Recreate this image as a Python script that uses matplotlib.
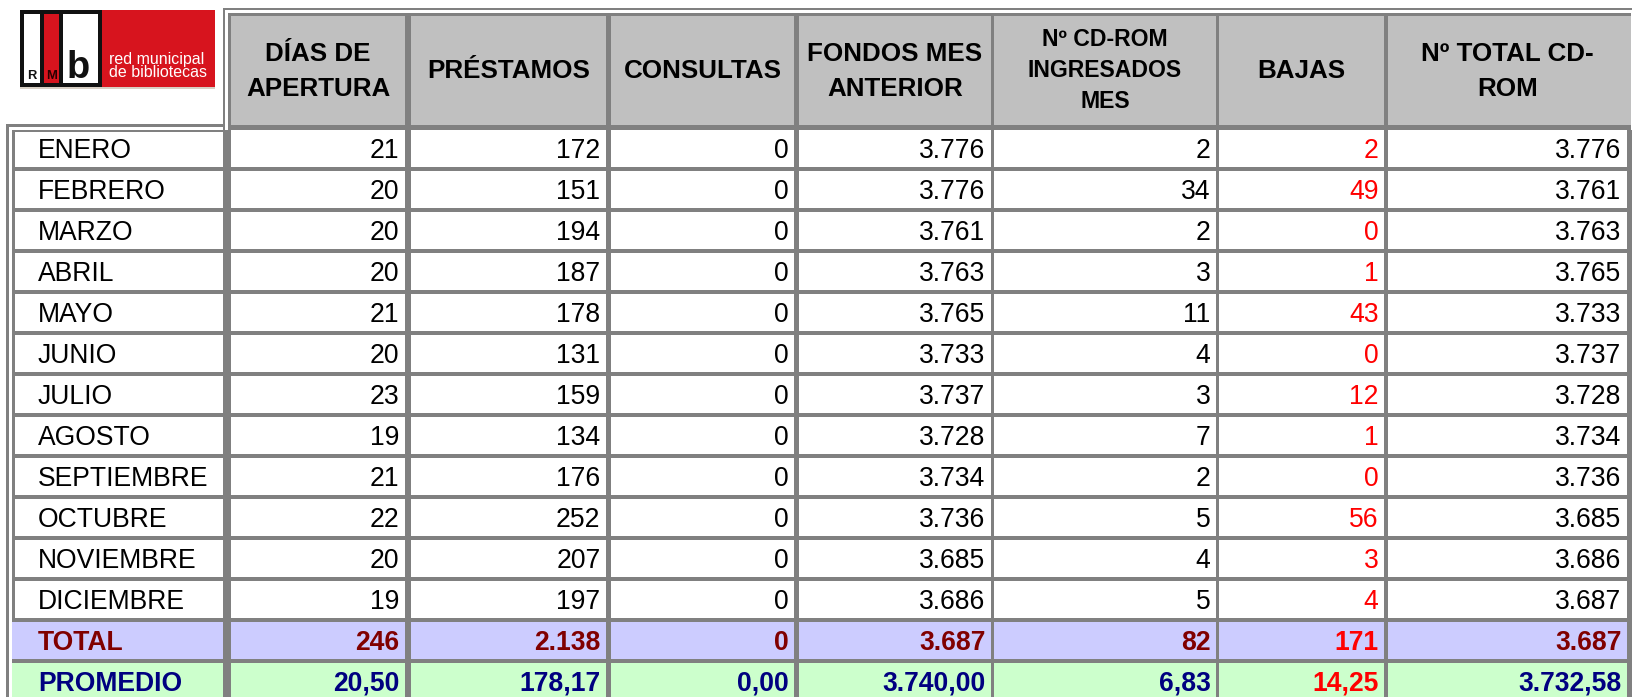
import matplotlib
matplotlib.use("Agg")
import matplotlib.pyplot as plt
from matplotlib.patches import Rectangle

# ---------------- data ----------------
months = ["ENERO", "FEBRERO", "MARZO", "ABRIL", "MAYO", "JUNIO", "JULIO",
          "AGOSTO", "SEPTIEMBRE", "OCTUBRE", "NOVIEMBRE", "DICIEMBRE"]
headers = ["DÍAS DE\nAPERTURA", "PRÉSTAMOS", "CONSULTAS", "FONDOS MES\nANTERIOR",
           "Nº CD-ROM\nINGRESADOS\nMES", "BAJAS", "Nº TOTAL CD-\nROM"]
dias = [21, 20, 20, 20, 21, 20, 23, 19, 21, 22, 20, 19]
prestamos = [172, 151, 194, 187, 178, 131, 159, 134, 176, 252, 207, 197]
consultas = [0, 0, 0, 0, 0, 0, 0, 0, 0, 0, 0, 0]
fondos = [3776, 3776, 3761, 3763, 3765, 3733, 3737, 3728, 3734, 3736, 3685, 3686]
ingresados = [2, 34, 2, 3, 11, 4, 3, 7, 2, 5, 4, 5]
bajas = [2, 49, 0, 1, 43, 0, 12, 1, 0, 56, 3, 4]
total_cd = [3776, 3761, 3763, 3765, 3733, 3737, 3728, 3734, 3736, 3685, 3686, 3687]
total_row = [246, 2138, 0, 3687, 82, 171, 3687]
promedio_row = [20.50, 178.17, 0.00, 3740.00, 6.83, 14.25, 3732.58]

# ---------------- layout ----------------
W, H = 1633, 697
FONT = ["Liberation Sans", "DejaVu Sans"]
PT = 0.72  # px -> pt at dpi 100
GRID = "#808080"
HEAD_FILL = "#C0C0C0"
TOTAL_FILL = "#CCCCFF"
PROM_FILL = "#CCFFCC"
TOTAL_TXT = "#800000"
PROM_TXT = "#000080"
RED = "#FF0000"

col_x = [(15, 223), (231, 405), (411, 606), (611, 794), (799, 991),
         (994, 1216), (1219, 1384), (1388, 1627)]
row_top0, row_pitch, row_h = 130, 41, 37
body_fs = 26.5
head_fs = [26, 26, 26, 26, 23, 26, 26]
head_sp = [35, 35, 35, 35, 31, 35, 35]
head_yc = 69

fig = plt.figure(figsize=(W / 100, H / 100), dpi=100)
ax = fig.add_axes([0, 0, 1, 1])
ax.set_xlim(0, W)
ax.set_ylim(H, 0)
ax.axis("off")


def rect(x0, y0, x1, y1, color):
    ax.add_patch(Rectangle((x0, y0), x1 - x0, y1 - y0, facecolor=color,
                           edgecolor="none", linewidth=0, antialiased=False))


def text(x, yc, s, size, ha="left", color="black", weight="normal"):
    # place so that capital letters are centred on yc
    ax.text(x, yc + 0.358 * size, s, fontsize=size * PT, ha=ha, va="baseline",
            color=color, fontweight=weight, family=FONT)


def fmt_int(v):
    return f"{v:,}".replace(",", ".")


def fmt_dec(v):
    s = f"{v:,.2f}"
    return s.replace(",", "X").replace(".", ",").replace("X", ".")


# ---------------- logo ----------------
LOGO_RED = "#D7141E"
rect(20, 87, 215, 89, "#D8CFC4")
rect(100, 10, 215, 87, LOGO_RED)
rect(20, 10, 102, 87, "#111111")
rect(24, 14, 40, 83, "white")
rect(44, 14, 59, 83, LOGO_RED)
rect(63, 14, 98, 83, "white")
ax.text(27.5, 79, "R", fontsize=13 * PT, fontweight="bold", color="#111111", family=FONT)
ax.text(46, 79, "M", fontsize=13 * PT, fontweight="bold", color="#2a0000", family=FONT)
ax.text(67, 78, "b", fontsize=38 * PT, fontweight="heavy", color="#111111", family=FONT)
ax.text(109, 64, "red municipal", fontsize=16 * PT, color="white", family=FONT)
ax.text(109, 77, "de bibliotecas", fontsize=16 * PT, color="white", family=FONT)

# ---------------- frames / grid backgrounds ----------------
rect(223, 8, W, 10, GRID)           # header outer top line
rect(223, 8, 225, 130, GRID)        # header outer left line
rect(228, 13, 1631, 130, GRID)      # header grid
rect(6, 124, 225, 127, GRID)        # body outer top line
rect(6, 124, 9, H, GRID)            # body outer left line
rect(12, 130, W, H, GRID)           # body grid

# ---------------- header ----------------
for c, lab in enumerate(headers, start=1):
    x0, x1 = col_x[c]
    if c == len(headers):
        x1 = 1631
    rect(x0, 16, x1, 125, HEAD_FILL)
    lines = lab.split("\n")
    n = len(lines)
    fs = head_fs[c - 1]
    sp = head_sp[c - 1]
    xc = (col_x[c][0] + col_x[c][1]) / 2
    for i, ln in enumerate(lines):
        yc = head_yc + (i - (n - 1) / 2) * sp
        text(xc, yc, ln, fs, ha="center", weight="bold")

# ---------------- body ----------------
monthly_cols = [dias, prestamos, consultas, fondos, ingresados, bajas, total_cd]
labels = months + ["TOTAL", "PROMEDIO"]
for r, lab in enumerate(labels):
    y0 = row_top0 + r * row_pitch
    y1 = y0 + row_h
    yc = (y0 + y1) / 2
    if r < 12:
        fill, tcol, weight = "white", "black", "normal"
        vals = [fmt_int(col[r]) for col in monthly_cols]
    elif r == 12:
        fill, tcol, weight = TOTAL_FILL, TOTAL_TXT, "bold"
        vals = [fmt_int(v) for v in total_row]
    else:
        fill, tcol, weight = PROM_FILL, PROM_TXT, "bold"
        vals = [fmt_dec(v) for v in promedio_row]
    for c, (x0, x1) in enumerate(col_x):
        top = y0 + 2 if (c == 0 and r == 0) else y0
        left = 12 if (c == 0 and r >= 12) else x0
        rect(left, top, x1, y1, fill)
    text(38, yc, lab, body_fs, ha="left", color=tcol, weight=weight)
    for c, s in enumerate(vals, start=1):
        color = RED if c == 6 else tcol
        text(col_x[c][1] - 5.5, yc, s, body_fs, ha="right", color=color, weight=weight)

fig.savefig("out.png", dpi=100)
